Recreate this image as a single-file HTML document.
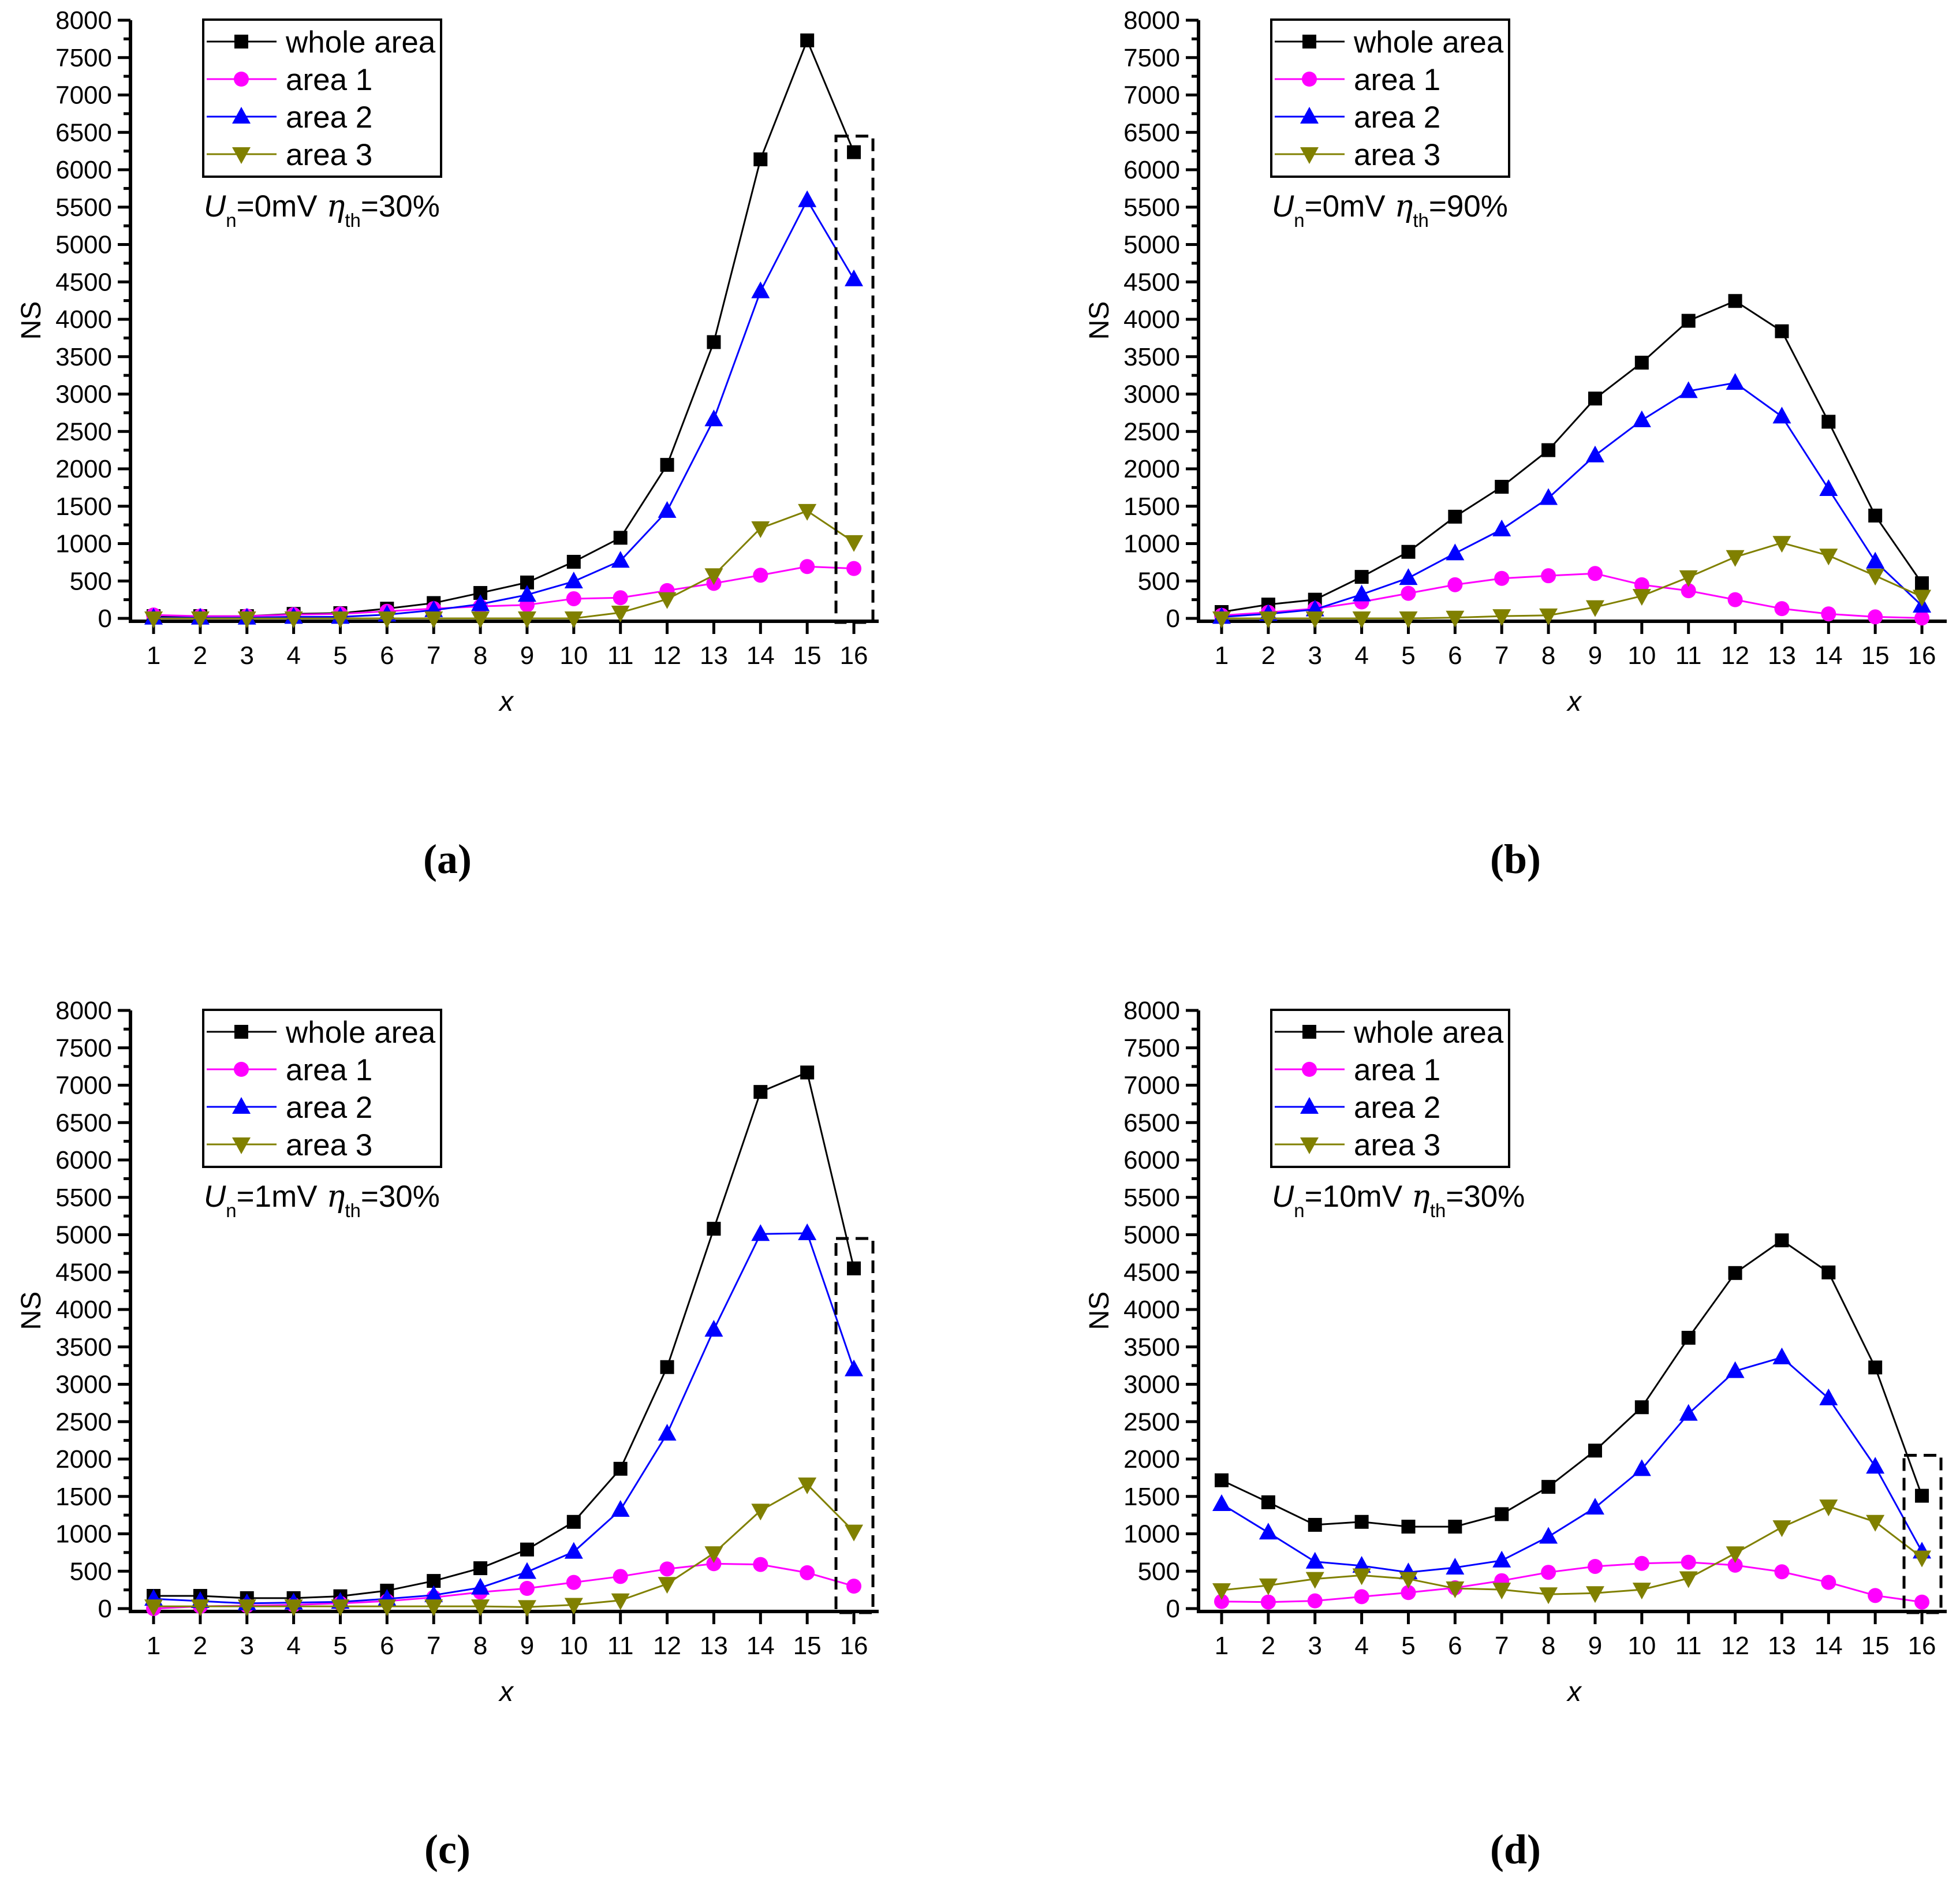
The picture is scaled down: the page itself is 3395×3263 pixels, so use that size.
<!DOCTYPE html>
<html><head><meta charset="utf-8"><style>
html,body{margin:0;padding:0;background:#fff}
svg{display:block}
text{font-family:"Liberation Sans",Arial,sans-serif;fill:#000}
</style></head><body>
<svg id="fig" width="3395" height="3263" viewBox="0 0 3395 3263" xmlns="http://www.w3.org/2000/svg"></svg>
<script>
const categories=[1,2,3,4,5,6,7,8,9,10,11,12,13,14,15,16];
const yTicks=[0,500,1000,1500,2000,2500,3000,3500,4000,4500,5000,5500,6000,6500,7000,7500,8000];
const seriesNames=["whole area","area 1","area 2","area 3"];
// panel a
const aWhole=[30,30,30,60,70,130,205,340,480,757,1078,2053,3695,6139,7730,6235];
const aArea1=[45,30,30,50,60,95,130,160,180,263,276,372,468,577,693,667];
const aArea2=[10,10,10,20,20,50,110,190,315,494,770,1437,2662,4375,5593,4535];
const aArea3=[0,0,0,0,0,0,0,0,0,0,77,257,577,1206,1437,1020];
// panel b
const bWhole=[85,185,250,555,890,1360,1760,2250,2940,3420,3980,4245,3840,2630,1375,470];
const bArea1=[40,80,130,220,335,450,535,570,600,450,370,250,130,60,20,5];
const bArea2=[20,60,120,320,540,870,1190,1610,2180,2650,3040,3150,2700,1730,760,170];
const bArea3=[0,0,0,0,0,10,30,40,150,300,550,820,1010,840,570,290];
// panel c
const cWhole=[170,170,140,140,165,240,370,540,790,1160,1870,3230,5080,6910,7170,4550];
const cArea1=[0,30,40,50,70,100,150,220,270,350,430,530,600,590,480,300];
const cArea2=[130,100,70,80,90,130,180,280,490,760,1320,2340,3730,5010,5020,3200];
const cArea3=[30,30,30,30,30,30,30,30,20,50,110,330,740,1310,1660,1030];
// panel d
const dWhole=[1716,1422,1120,1160,1096,1096,1263,1628,2113,2693,3622,4488,4925,4496,3225,1509];
const dArea1=[95,87,103,159,214,278,373,485,564,604,620,580,492,350,175,87];
const dArea2=[1398,1017,627,572,485,548,643,961,1350,1866,2605,3177,3360,2812,1898,763];
const dArea3=[246,310,397,445,397,270,254,191,207,254,405,739,1088,1366,1160,683];

const panels=[
 {id:"a",dx:0,dy:0,series:[aWhole,aArea1,aArea2,aArea3],un:"0mV",eta:"30%",box:6450},
 {id:"b",dx:1850,dy:0,series:[bWhole,bArea1,bArea2,bArea3],un:"0mV",eta:"90%",box:null},
 {id:"c",dx:0,dy:1715,series:[cWhole,cArea1,cArea2,cArea3],un:"1mV",eta:"30%",box:4950},
 {id:"d",dx:1850,dy:1715,series:[dWhole,dArea1,dArea2,dArea3],un:"10mV",eta:"30%",box:2050}
];
const colors=["#000000","#ff00ff","#0000ff","#808000"];
const NS="http://www.w3.org/2000/svg";
const svg=document.getElementById("fig");
function mk(tag,attrs,parent){const e=document.createElementNS(NS,tag);for(const k in attrs)e.setAttribute(k,attrs[k]);(parent||svg).appendChild(e);return e;}
function marker(g,k,cx,cy){
 let m;
 if(k===0)m=mk("rect",{x:cx-12,y:cy-12,width:24,height:24,fill:colors[0]},g);
 else if(k===1)m=mk("circle",{cx:cx,cy:cy,r:13,fill:colors[1]},g);
 else if(k===2)m=mk("polygon",{points:`${cx},${cy-17} ${cx-16},${cy+12} ${cx+16},${cy+12}`,fill:colors[2]},g);
 else m=mk("polygon",{points:`${cx},${cy+17} ${cx-16},${cy-12} ${cx+16},${cy-12}`,fill:colors[3]},g);
 return m;
}
panels.forEach(p=>{
 const X0=226+p.dx, Y0=p.dy;
 const xs=v=>266+p.dx+(v-1)*80.87;
 const ys=v=>1071+Y0-(v/8000)*(1071-35);
 const g=mk("g",{});
 
 
 const ax=mk("path",{d:`M${X0} ${ys(8000)} V${1076+Y0} H${1522+p.dx}`,stroke:"#000","stroke-width":6,fill:"none"},g);
 
 
 for(let v=0;v<=8000;v+=250){
  const major=v%500===0;
  mk("line",{x1:X0-(major?22:12),x2:X0,y1:ys(v),y2:ys(v),stroke:"#000","stroke-width":5},g);
 }
 yTicks.forEach(v=>{
  const t=mk("text",{x:X0-32,y:ys(v)+15,"font-size":44,"text-anchor":"end"},g);
  t.textContent=v;
  
  
 });
 categories.forEach(c=>{
  mk("line",{x1:xs(c),x2:xs(c),y1:1076+Y0,y2:1098+Y0,stroke:"#000","stroke-width":5},g);
  const t=mk("text",{x:xs(c),y:1150+Y0,"font-size":44,"text-anchor":"middle"},g);
  t.textContent=c;
  
  
 });
 const yl=mk("text",{x:0,y:0,"font-size":48,"text-anchor":"middle",transform:`translate(${70+p.dx},${555+Y0}) rotate(-90)`},g);
 yl.textContent="NS";
 
 
 const xl=mk("text",{x:877+p.dx,y:1231+Y0,"font-size":48,"font-style":"italic","text-anchor":"middle"},g);
 xl.textContent="x";
 
 
 p.series.forEach((vals,k)=>{
  const sg=mk("g",{},g);
  
  
  mk("polyline",{points:vals.map((v,i)=>`${xs(categories[i])},${ys(v)}`).join(" "),fill:"none",stroke:colors[k],"stroke-width":3},sg);
  vals.forEach((v,i)=>{
   const m=marker(sg,k,xs(categories[i]),ys(v));
   
   
  });
 });
 if(p.box!==null){
  const r=mk("rect",{x:xs(16)-31,y:ys(p.box),width:64,height:1078+Y0-ys(p.box),fill:"none",stroke:"#000","stroke-width":5,"stroke-dasharray":"22,12"},g);
  
  
 }
 const lg=mk("g",{},g);
 
 
 mk("rect",{x:352+p.dx,y:34+Y0,width:412,height:272,fill:"#fff",stroke:"#000","stroke-width":4},lg);
 seriesNames.forEach((n,k)=>{
  const yy=72+k*65+Y0;
  mk("line",{x1:358+p.dx,x2:479+p.dx,y1:yy,y2:yy,stroke:colors[k],"stroke-width":3},lg);
  marker(lg,k,418+p.dx,yy);
  const t=mk("text",{x:495+p.dx,y:yy+19,"font-size":53},lg);
  t.textContent=n;
  
  
 });
 const an=mk("text",{x:353+p.dx,y:375+Y0,"font-size":53},g);
 
 
 an.innerHTML=`<tspan font-style="italic">U</tspan><tspan font-size="33" dy="18">n</tspan><tspan dy="-18">=${p.un}</tspan><tspan dx="16" font-style="italic" font-family="DejaVu Serif, serif">η</tspan><tspan font-size="33" dy="18">th</tspan><tspan dy="-18">=${p.eta}</tspan>`;
 const lab=mk("text",{x:775+p.dx,y:1512+Y0,"font-size":72,"font-weight":"bold","text-anchor":"middle",style:"font-family:'Liberation Serif',serif"},g);
 lab.textContent="("+p.id+")";
 
 
});
</script>
</body></html>
